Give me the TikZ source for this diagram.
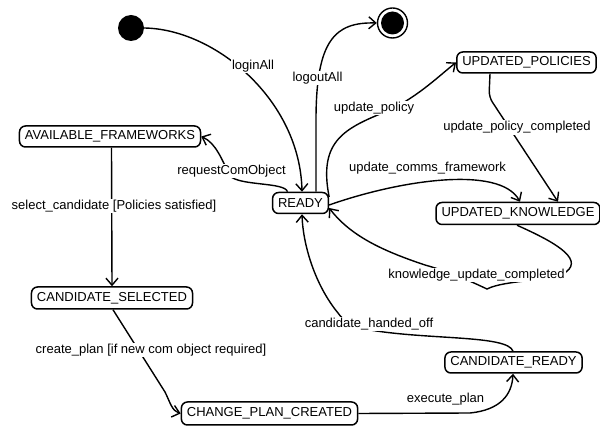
\documentclass[tikz,border=0pt]{standalone}
\usepackage{fontspec}
\setmainfont{Liberation Sans}
\usetikzlibrary{arrows.meta}
\begin{document}
\begin{tikzpicture}[x=1pt,y=-1pt,
  every node/.style={font=\fontsize{13}{15}\selectfont},
  state/.style={draw, line width=1.5pt, rounded corners=6pt, fill=white,
    inner xsep=5.5pt, inner ysep=2pt, minimum height=21pt},
  tr/.style={line width=1.4pt, -{Straight Barb[length=7pt,width=12pt]}},
  lbl/.style={fill=white, inner sep=1pt}]
\useasboundingbox (0,0) rectangle (600,427);

% pseudo states
\node[circle, fill=black, minimum size=26pt, inner sep=0pt] (init) at (131,28) {};
\node[circle, draw, line width=1.4pt, minimum size=30pt, inner sep=0pt] (final) at (392.5,23) {};
\fill (final.center) circle (11.5);

% states
\node[state] (af)    at (110,136.5)   {AVAILABLE\_FRAMEWORKS};
\node[state] (ready) at (300.5,203)   {READY};
\node[state] (up)    at (526.5,62.5)  {UPDATED\_POLICIES};
\node[state, minimum height=22pt] (uk) at (518,213.5) {UPDATED\_KNOWLEDGE};
\node[state, minimum height=22pt] (cs) at (112,298) {CANDIDATE\_SELECTED};
\node[state, minimum height=23pt] (cpc) at (269.5,413.5) {CHANGE\_PLAN\_CREATED};
\node[state] (cr)    at (513.5,362.5) {CANDIDATE\_READY};

% transitions
\draw[tr] (init.east) .. controls (215,29) and (300,100) .. ([xshift=1.5pt]ready.north);
\draw[tr] ([xshift=15.5pt]ready.north) -- (316,120) .. controls (316,40) and (335,22) .. (final.west);
\draw[tr] ([xshift=-13pt]ready.north) .. controls (285,182) and (240,186) .. (230,176)
  .. controls (222,160) and (216,143) .. (af.east);
\draw[tr] ([yshift=6pt]ready.east) .. controls (318,140) and (345,128) .. (390,110)
  .. controls (420,95) and (440,75) .. (up.west);
\draw[tr, rounded corners=6pt] ([xshift=-36.5pt]up.south) -- (489,97) -- ([xshift=40pt]uk.north);
\draw[tr] ([yshift=-2pt]ready.east) .. controls (400,180) and (500,165) .. ([xshift=2pt]uk.north);
\draw[tr] ([xshift=-1pt]uk.south) .. controls (550,240) and (585,258) .. (566,272)
  .. controls (545,282) and (505,280) .. (487,289)
  .. controls (470,281) and (450,272) .. (425,265)
  .. controls (380,250) and (350,235) .. ([yshift=-5pt]ready.east);
\draw[tr] ([xshift=-0.5pt]cr.north) .. controls (508,335) and (430,340) .. (370,330)
  .. controls (350,326) and (343,320) .. (338,313)
  .. controls (315,285) and (303,245) .. ([xshift=1.5pt]ready.south);
\draw[tr] ([xshift=1.5pt]af.south) -- (cs.north);
\draw[tr] ([xshift=1pt]cs.south) -- (165,392) .. controls (170,402) and (172,411) .. (cpc.west);
\draw[tr] (cpc.east) -- (470,413) .. controls (500,410) and (512,395) .. ([xshift=-0.5pt]cr.south);

% transition labels
\node[lbl] (l1)  at (253,66)    {loginAll};
\node[lbl] (l2)  at (317.5,78)  {logoutAll};
\node[lbl] (l3)  at (231.5,171) {requestComObject};
\node[lbl] (l4)  at (374,108)   {update\_policy};
\node[lbl] (l5)  at (517,127.5) {update\_policy\_completed};
\node[lbl] (l6)  at (427.5,168) {update\_comms\_framework};
\node[lbl] (l7)  at (476.5,275) {knowledge\_update\_completed};
\node[lbl] (l8)  at (369,324)   {candidate\_handed\_off};
\node[lbl] (l9)  at (114,206)   {select\_candidate [Policies satisfied]};
\node[lbl] (l10) at (151,350)   {create\_plan [if new com object required]};
\node[lbl] (l11) at (445.5,399) {execute\_plan};
\end{tikzpicture}
\end{document}
